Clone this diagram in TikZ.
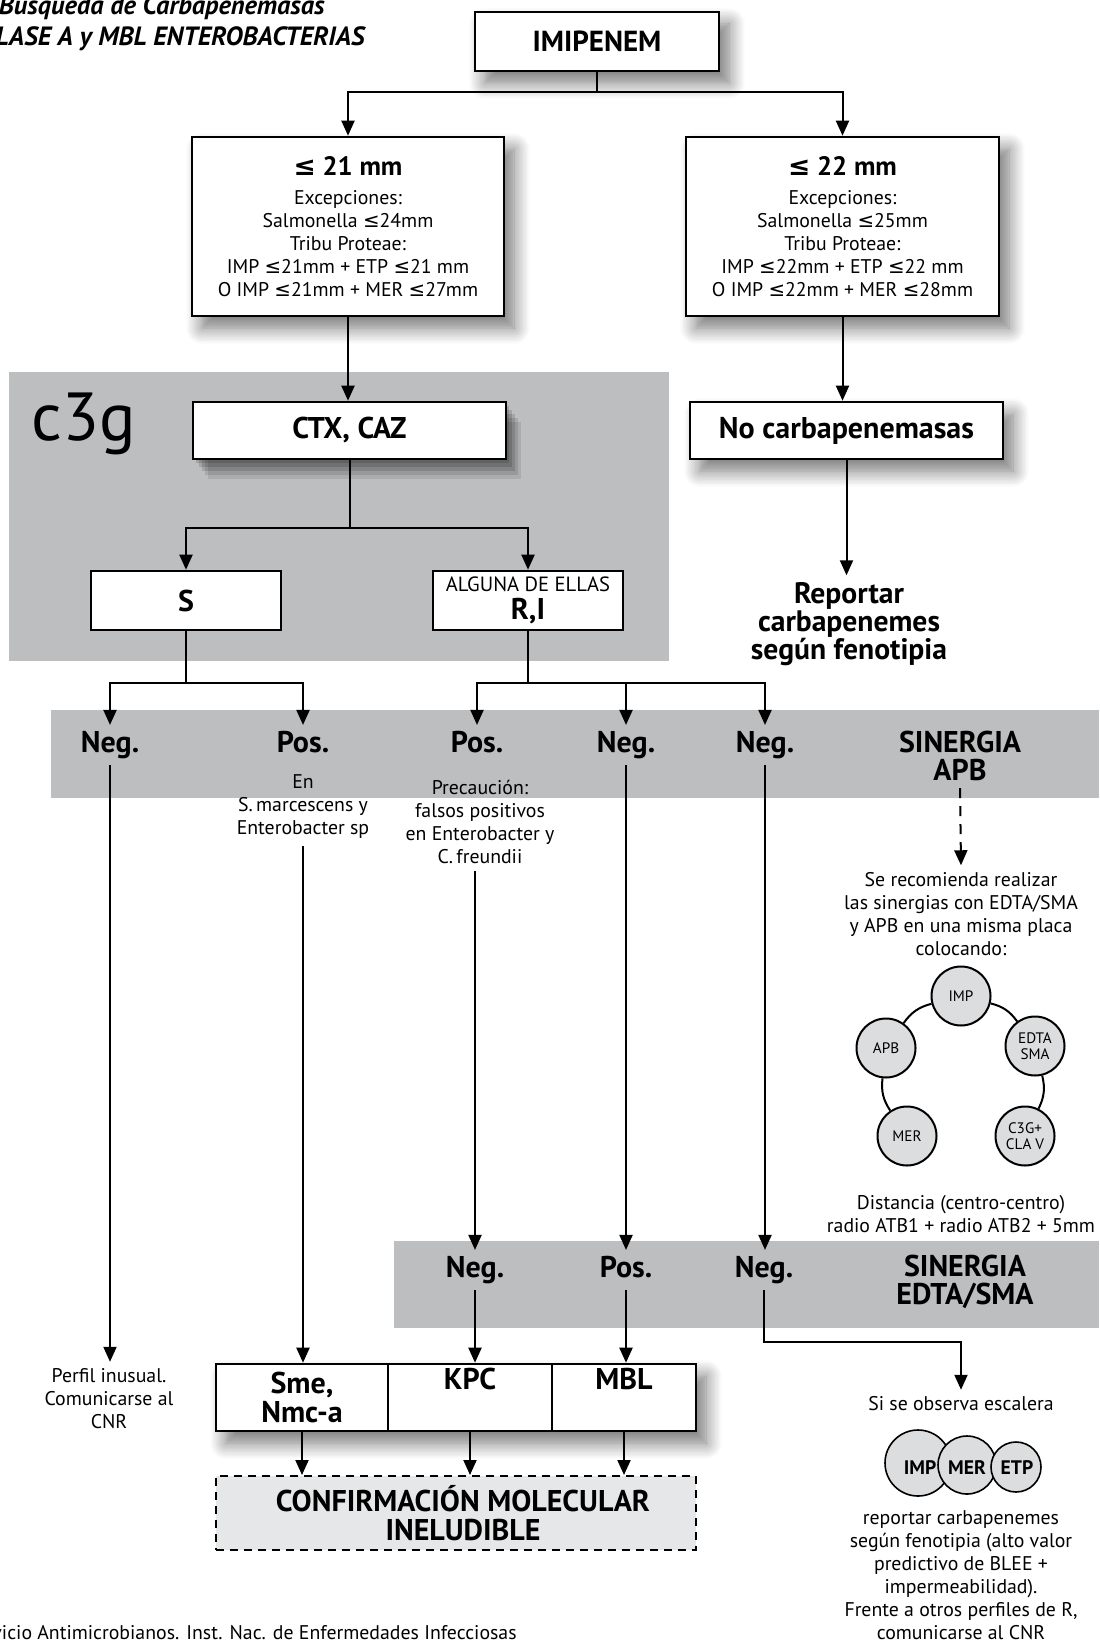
\documentclass[tikz,border=0pt]{standalone}
\usepackage{fontspec}
\setmainfont{PT Sans}
\newfontfamily\simbolo{DejaVu Sans}
\usetikzlibrary{arrows.meta,shadows,shadows.blur}
\definecolor{gris}{HTML}{BCBEC0}
\definecolor{grisclaro}{HTML}{E6E7E8}
\definecolor{disco}{HTML}{DCDDDE}
\newcommand{\mq}{{\simbolo ≤}}

\begin{document}
\begin{tikzpicture}[x=0.5pt,y=-0.5pt,
    caja/.style={draw,line width=1.3pt,fill=white,
      blur shadow={shadow xshift=5pt,shadow yshift=-6pt,shadow blur radius=8pt,shadow blur steps=12,shadow opacity=55}},
    cajagris/.style={draw,line width=1.3pt,fill=white,
      general shadow={fill=black,opacity=.14,shadow xshift=1.5pt,shadow yshift=-2pt},
      general shadow={fill=black,opacity=.14,shadow xshift=3pt,shadow yshift=-4pt},
      general shadow={fill=black,opacity=.13,shadow xshift=4.5pt,shadow yshift=-6pt},
      general shadow={fill=black,opacity=.11,shadow xshift=6pt,shadow yshift=-8pt},
      general shadow={fill=black,opacity=.09,shadow xshift=7.5pt,shadow yshift=-10pt}},
    plana/.style={draw,line width=1.3pt,fill=white},
    negrita/.style={font=\bfseries\fontsize{15}{14.2}\selectfont},
    etq/.style={negrita,anchor=base,text height=10pt,text depth=3pt},
    txt/.style={align=center,font=\fontsize{9.9}{11.5}\selectfont},
    flecha/.style={-{Triangle[length=7.5pt,width=6.5pt]},line width=1pt},
    circ/.style={circle,draw,line width=1pt,fill=disco,minimum size=29.5pt,inner sep=0pt,
      align=center,font=\fontsize{7.6}{8}\selectfont},
    esc/.style={circle,draw,line width=0.8pt,fill=disco,inner sep=0pt}]
\useasboundingbox (0,0) rectangle (1099,1642);

% fondos grises
\fill[gris] (9,372) rectangle (669,661);
\fill[gris] (51,710) rectangle (1099,798);
\fill[gris] (394,1241) rectangle (1099,1328);

% titulo y pie
\node[anchor=east,inner sep=0pt,font=\bfseries\itshape\fontsize{13.2}{14}\selectfont] (tit1) at (325,8) {Búsqueda de Carbapenemasas};
\node[anchor=east,inner sep=0pt,font=\bfseries\itshape\fontsize{13.2}{14}\selectfont] (tit2) at (365,39) {CLASE A y MBL ENTEROBACTERIAS};
\node[anchor=east,inner sep=0pt,font=\fontsize{9.9}{11}\selectfont] (pie) at (517,1633) {Servicio Antimicrobianos. Inst. Nac. de Enfermedades Infecciosas};
\node[anchor=base west,inner sep=0pt,font=\fontsize{34}{34}\selectfont] (etiq) at (31,440) {c3g};

% cajas superiores
\node[caja,minimum width=122pt,minimum height=29.5pt,font=\bfseries\fontsize{14.5}{14}\selectfont] (imi) at (597,41.5) {IMIPENEM};
\node[caja,minimum width=156pt,minimum height=89.5pt,txt] (izq) at (348,226.5)
  {{\bfseries\fontsize{13.3}{15}\selectfont\mq\ 21 mm}\\[3pt]Excepciones:\\Salmonella \mq24mm\\Tribu Proteae:\\IMP \mq21mm + ETP \mq21 mm\\O IMP \mq21mm + MER \mq27mm};
\node[caja,minimum width=156.5pt,minimum height=89.5pt,txt] (der) at (842.5,226.5)
  {{\bfseries\fontsize{13.3}{15}\selectfont\mq\ 22 mm}\\[3pt]Excepciones:\\Salmonella \mq25mm\\Tribu Proteae:\\IMP \mq22mm + ETP \mq22 mm\\O IMP \mq22mm + MER \mq28mm};
\node[cajagris,minimum width=156.5pt,minimum height=28.5pt,negrita] (ctx) at (349.5,430.5) {CTX, CAZ};
\node[caja,minimum width=156.5pt,minimum height=28.5pt,negrita] (nocarb) at (846.5,430.5) {No carbapenemasas};
\node[plana,minimum width=95pt,minimum height=29.5pt,negrita] (s) at (186,600.5) {S};
\node[plana,minimum width=95pt,minimum height=29.5pt,negrita,align=center,inner sep=1pt] (ri) at (528,600.5)
  {{\normalfont\fontsize{10.3}{12}\selectfont ALGUNA DE ELLAS}\\R,I};
\node[align=center,font=\bfseries\fontsize{14.8}{14}\selectfont] (rep) at (849,624) {Reportar\\carbapenemes\\según fenotipia};

% primera franja
\node[etq] (n1) at (110,752) {Neg.};
\node[etq] (p1) at (303,752) {Pos.};
\node[etq] (p2) at (477,752) {Pos.};
\node[etq] (n2) at (626,752) {Neg.};
\node[etq] (n3) at (765,752) {Neg.};
\node[negrita,align=center] (apb) at (960,756) {SINERGIA\\APB};
\node[txt] (nota1) at (303,807) {En\\S.\,marcescens y\\Enterobacter sp};
\node[txt] (nota2) at (480,822) {Precaución:\\falsos positivos\\en Enterobacter y\\C.\,freundii};

% placa
\node[txt] (rec) at (961,914) {Se recomienda realizar\\las sinergias con EDTA/SMA\\y APB en una misma placa\\colocando:};
\node[circ] (imp) at (961,996) {IMP};
\node[circ] (apbc) at (886,1048) {APB};
\node[circ] (edta) at (1035,1046) {EDTA\\SMA};
\node[circ] (mer) at (907,1136) {MER};
\node[circ] (c3gc) at (1025,1136) {C3G+\\CLA V};
\draw[line width=1pt] (imp) to[bend right=20] (apbc);
\draw[line width=1pt] (imp) to[bend left=20] (edta);
\draw[line width=1pt] (apbc) to[bend right=20] (mer);
\draw[line width=1pt] (edta) to[bend left=20] (c3gc);
\node[txt] (dist) at (961,1214) {Distancia (centro-centro)\\radio ATB1 + radio ATB2 + 5mm};

% segunda franja
\node[etq] (n4) at (475,1277) {Neg.};
\node[etq] (p3) at (626,1277) {Pos.};
\node[etq] (n5) at (764,1277) {Neg.};
\node[negrita,align=center] (edta2) at (965,1282) {SINERGIA\\EDTA/SMA};

% resultados
\node[caja,minimum width=240pt,minimum height=33.5pt] (fila) at (456,1397.5) {};
\node[draw,line width=1.3pt,minimum width=86pt,minimum height=33.5pt,negrita,align=center,inner sep=0pt] (sme) at (302,1397.5) {Sme,\\Nmc-a};
\node[draw,line width=1.3pt,minimum width=82pt,minimum height=33.5pt,negrita,align=center,inner sep=0pt] (kpc) at (470,1397.5) {KPC\\\strut};
\node[draw,line width=1.3pt,minimum width=72pt,minimum height=33.5pt,negrita,align=center,inner sep=0pt] (mbl) at (624,1397.5) {MBL\\\strut};
\node[draw,line width=1pt,dash pattern=on 4pt off 3pt,fill=grisclaro,minimum width=240pt,minimum height=37pt,negrita,align=center] (conf) at (456,1513) {\hspace*{7pt}CONFIRMACIÓN MOLECULAR\\\hspace*{7pt}INELUDIBLE};
\node[txt] (perfil) at (109,1399) {Perfil inusual.\\Comunicarse al\\CNR};
\node[txt] (escalera) at (961,1404) {Si se observa escalera};
\node[esc,minimum size=33pt] (e1) at (918,1463) {};
\node[esc,minimum size=29pt] (e2) at (967,1465) {};
\node[esc,minimum size=25pt] (e3) at (1016,1467) {};
\foreach \n/\x/\t in {t1/920/IMP,t2/967/MER,t3/1017/ETP}
    \node[font=\bfseries\fontsize{9.8}{10}\selectfont] (\n) at (\x,1468) {\t};
\node[txt] (final) at (961,1575) {reportar carbapenemes\\según fenotipia (alto valor\\predictivo de BLEE +\\impermeabilidad).\\Frente a otros perfiles de R,\\comunicarse al CNR};

% conectores
\draw[flecha] (imi.south) -- +(0,20) -| (izq.north);
\draw[flecha] (imi.south) -- +(0,20) -| (der.north);
\draw[flecha] (izq.south) -- (izq.south |- ctx.north);
\draw[flecha] (der.south) -- (der.south |- nocarb.north);
\draw[flecha] (nocarb.south) -- (nocarb.south |- rep.north);
\draw[flecha] (ctx.south) -- +(0,68) -| (s.north);
\draw[flecha] (ctx.south) -- +(0,68) -| (ri.north);
\foreach \d in {n1,p1}
    \draw[flecha] (s.south) -- +(0,52) -| (\d.north);
\foreach \d in {p2,n2,n3}
    \draw[flecha] (ri.south) -- +(0,52) -| (\d.north);
\draw[flecha] (n1.south) -- (n1.south |- perfil.north);
\draw[flecha] (nota1.south) -- (nota1.south |- fila.north);
\draw[flecha] (nota2.south -| n4) -- (n4.north);
\draw[flecha] (n2.south) -- (n2.south |- p3.north);
\draw[flecha] (n3.south) -- (n3.south |- n5.north);
\draw[flecha,dash pattern=on 5pt off 4pt] (apb.south) -- (rec.north);
\draw[flecha] (n4.south) -- (n4.south |- fila.north);
\draw[flecha] (p3.south) -- (p3.south |- fila.north);
\draw[flecha] (n5.south) -- +(0,52) -| (escalera.north);
\foreach \c in {sme,kpc,mbl}
    \draw[flecha] (\c.south) -- (\c.south |- conf.north);
\end{tikzpicture}
\end{document}
